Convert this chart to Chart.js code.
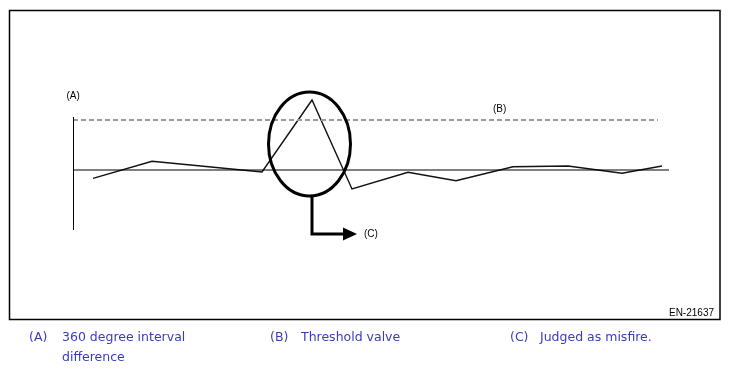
<!DOCTYPE html>
<html><head><meta charset="utf-8">
<script src="https://cdn.jsdelivr.net/npm/chart.js@4"></script>
<style>
html,body{margin:0;padding:0;background:#fff;}
#wrap{position:relative;width:729px;height:372px;}
canvas{display:block;}
</style></head>
<body>
<div id="wrap"><canvas id="c" width="729" height="372"></canvas></div>
<script>
// crank position (arbitrary units) and 360-degree interval difference values
const positions = [2.0, 7.9, 13.3, 18.9, 23.9, 27.9, 33.5, 38.3, 44.0, 49.5, 54.9, 58.9];
const intervalDiff = [-0.83, 0.87, 0.35, -0.2, 7.0, -1.9, -0.23, -1.07, 0.33, 0.4, -0.33, 0.4];
const thresholdValue = 5.0;
const thresholdSpan = [0, 58.5];
const baselineSpan = [0, 59.6];
const yRange = [-6.0, 5.3];
const misfireIndex = 4;
const labels = { A: "(A)", B: "(B)", C: "(C)", code: "EN-21637" };
const legendItems = [
  ["(A)", ["360 degree interval", "difference"]],
  ["(B)", ["Threshold valve"]],
  ["(C)", ["Judged as misfire."]]
];

const annot = {
  id: 'annot',
  beforeDraw(chart) {
    const ctx = chart.ctx;
    ctx.save();
    ctx.fillStyle = '#fff';
    ctx.fillRect(0, 0, chart.width, chart.height);
    ctx.restore();
  },
  afterDraw(chart) {
    const ctx = chart.ctx;
    const xs = chart.scales.x, ys = chart.scales.y;
    const px = v => xs.getPixelForValue(v), py = v => ys.getPixelForValue(v);
    ctx.save();
    // frame
    ctx.strokeStyle = '#000';
    ctx.lineWidth = 1.5;
    ctx.strokeRect(9.5, 10.5, 710.5, 309);
    // y axis
    ctx.lineWidth = 1;
    ctx.beginPath();
    ctx.moveTo(Math.round(px(0)) + 0.5, py(yRange[1]));
    ctx.lineTo(Math.round(px(0)) + 0.5, py(yRange[0]));
    ctx.stroke();
    // ellipse around misfire
    const mx = positions[misfireIndex];
    const rx = 41, ry = 52;
    const top = py(intervalDiff[misfireIndex]) - 8;
    const cx = px(mx) - 2.5, cy = top + ry;
    ctx.lineWidth = 3;
    ctx.beginPath();
    ctx.ellipse(cx, cy, rx, ry, 0, 0, Math.PI * 2);
    ctx.stroke();
    // arrow
    const ax = px(mx);
    const bottom = cy + ry;
    const ay = 234;
    ctx.beginPath();
    ctx.moveTo(ax, bottom);
    ctx.lineTo(ax, ay);
    ctx.lineTo(345, ay);
    ctx.stroke();
    ctx.fillStyle = '#000';
    ctx.beginPath();
    ctx.moveTo(343, ay - 6.5);
    ctx.lineTo(357, ay);
    ctx.lineTo(343, ay + 6.5);
    ctx.closePath();
    ctx.fill();
    // small labels
    ctx.font = '10px "Liberation Sans", Arial, sans-serif';
    ctx.textBaseline = 'middle';
    ctx.textAlign = 'left';
    ctx.fillText(labels.A, 66.5, 96);
    ctx.fillText(labels.B, 493, 109);
    ctx.fillText(labels.C, 364, 234.5);
    ctx.textAlign = 'right';
    ctx.fillText(labels.code, 714, 313);
    // legend below
    ctx.font = '12.5px "DejaVu Sans", Verdana, sans-serif';
    ctx.fillStyle = '#3a3ac0';
    ctx.textAlign = 'left';
    const cols = [[29, 62], [270, 301], [510, 540]];
    legendItems.forEach((it, i) => {
      ctx.fillText(it[0], cols[i][0], 338);
      it[1].forEach((t, j) => ctx.fillText(t, cols[i][1], 338 + j * 20));
    });
    ctx.restore();
  }
};

new Chart(document.getElementById('c'), {
  type: 'scatter',
  data: {
    datasets: [
      {
        data: [{x: thresholdSpan[0], y: thresholdValue}, {x: thresholdSpan[1], y: thresholdValue}],
        showLine: true, borderColor: '#9a9a9a', borderWidth: 2, borderDash: [5, 3],
        pointRadius: 0, clip: false
      },
      {
        data: [{x: baselineSpan[0], y: 0}, {x: baselineSpan[1], y: 0}],
        showLine: true, borderColor: '#000', borderWidth: 1.2,
        pointRadius: 0, clip: false
      },
      {
        data: positions.map((p, i) => ({x: p, y: intervalDiff[i]})),
        showLine: true, borderColor: '#111', borderWidth: 1.4,
        pointRadius: 0, clip: false, tension: 0
      }
    ]
  },
  options: {
    responsive: false, animation: false, devicePixelRatio: 1,
    layout: { padding: { left: 73, right: 60, top: 117, bottom: 142 } },
    plugins: { legend: { display: false }, tooltip: { enabled: false } },
    scales: {
      x: { type: 'linear', min: baselineSpan[0], max: baselineSpan[1], display: false },
      y: { type: 'linear', min: yRange[0], max: yRange[1], display: false }
    }
  },
  plugins: [annot]
});
</script>
</body></html>
